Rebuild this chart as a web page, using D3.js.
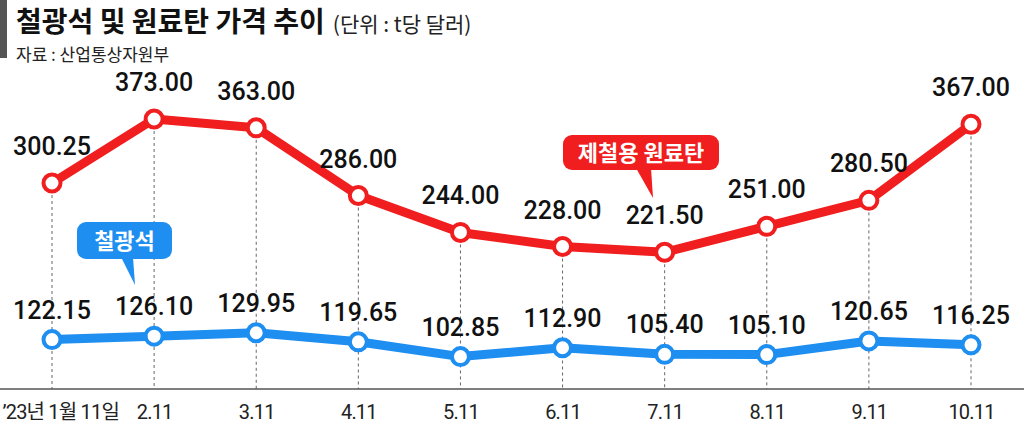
<!DOCTYPE html>
<html>
<head>
<meta charset="utf-8">
<script src="https://cdn.jsdelivr.net/npm/d3@7"></script>
<style>
  body { margin: 0; background: #fff; }
  text { font-family: 'Noto Sans CJK KR', 'Noto Sans', sans-serif; }
  .value { font-family: Roboto, 'Liberation Sans', sans-serif; font-weight: 500; font-size: 25px; fill: #111; }
  .tick { font-family: Roboto, 'Noto Sans CJK KR', sans-serif; font-size: 20px; letter-spacing: -0.8px; fill: #222; }
</style>
</head>
<body>
<div id="chart"></div>
<script>
const months = ['1.11', '2.11', '3.11', '4.11', '5.11', '6.11', '7.11', '8.11', '9.11', '10.11'];
const tickLabels = ['\u201923년 1월 11일', '2.11', '3.11', '4.11', '5.11', '6.11', '7.11', '8.11', '9.11', '10.11'];
const cokingCoal = [300.25, 373.00, 363.00, 286.00, 244.00, 228.00, 221.50, 251.00, 280.50, 367.00];
const ironOre = [122.15, 126.10, 129.95, 119.65, 102.85, 112.90, 105.40, 105.10, 120.65, 116.25];

const width = 1024;
const height = 427;
const baseY = 389;

const svg = d3.select('#chart')
.append('svg')
.attr('width', width)
.attr('height', height);

// title
svg.append('rect')
.attr('x', 0)
.attr('y', 0)
.attr('width', 7)
.attr('height', 58)
.attr('fill', '#555');

const title = svg.append('text')
.attr('x', 16)
.attr('y', 32);

title.append('tspan')
.attr('font-size', 28)
.attr('font-weight', 'bold')
.attr('fill', '#111')
.text('철광석 및 원료탄 가격 추이');

title.append('tspan')
.attr('font-size', 21)
.attr('fill', '#222')
.attr('dx', 8)
.text('(단위 : t당 달러)');

svg.append('text')
.attr('x', 16)
.attr('y', 61)
.attr('font-size', 17)
.attr('fill', '#222')
.text('자료 : 산업통상자원부');

const scaleX = d3.scalePoint()
.domain(months)
.range([52, 971]);

const scaleY = d3.scaleLinear()
.domain([66, 373])
.range([baseY, 119]);

// dashed guides
svg.append('g')
.selectAll('line')
.data(months)
.enter()
.append('line')
.attr('x1', (d) => scaleX(d))
.attr('x2', (d) => scaleX(d))
.attr('y1', (d, i) => scaleY(cokingCoal[i]))
.attr('y2', baseY)
.attr('stroke', '#666')
.attr('stroke-width', 1)
.attr('stroke-dasharray', '3,3');

// baseline axis
const xAxis = d3.axisBottom(scaleX)
.tickSize(0)
.tickPadding(16)
.tickFormat((d, i) => tickLabels[i]);

const groupAxisX = svg.append('g')
.attr('transform', `translate(0, ${baseY})`)
.call(xAxis);

groupAxisX.select('.domain').remove();
groupAxisX.selectAll('text')
.attr('class', 'tick')
.attr('font-family', null)
.attr('font-size', null);
groupAxisX.select('.tick:first-of-type text')
.attr('text-anchor', 'start')
.attr('x', 2 - scaleX(months[0]));

svg.append('line')
.attr('x1', 0)
.attr('x2', width)
.attr('y1', baseY)
.attr('y2', baseY)
.attr('stroke', '#555')
.attr('stroke-width', 1.5);

function drawSeries(values, color, labelGap) {
    const line = d3.line()
    .x((d, i) => scaleX(months[i]))
    .y((d) => scaleY(d));

    svg.append('path')
    .datum(values)
    .attr('d', line)
    .attr('fill', 'none')
    .attr('stroke', color)
    .attr('stroke-width', 9)
    .attr('stroke-linejoin', 'round');

    svg.append('g')
    .selectAll('circle')
    .data(values)
    .enter()
    .append('circle')
    .attr('cx', (d, i) => scaleX(months[i]))
    .attr('cy', (d) => scaleY(d))
    .attr('r', 8.5)
    .attr('fill', '#fff')
    .attr('stroke', color)
    .attr('stroke-width', 4);

    svg.append('g')
    .selectAll('text')
    .data(values)
    .enter()
    .append('text')
    .attr('class', 'value')
    .attr('x', (d, i) => scaleX(months[i]))
    .attr('y', (d) => scaleY(d) - labelGap)
    .attr('text-anchor', 'middle')
    .text((d) => d.toFixed(2));
}

drawSeries(cokingCoal, '#f01e1e', 28);
drawSeries(ironOre, '#1e8ef0', 21);

function callout(x, y, w, h, tail, color, label) {
    const g = svg.append('g');
    g.append('path')
    .attr('d', `M${tail[0]},${y + h - 2} L${tail[2]},${tail[3]} L${tail[1]},${y + h - 2} Z`)
    .attr('fill', color);
    g.append('rect')
    .attr('x', x)
    .attr('y', y)
    .attr('width', w)
    .attr('height', h)
    .attr('rx', 9)
    .attr('fill', color);
    g.append('text')
    .attr('x', x + w / 2)
    .attr('y', y + h / 2 + 8)
    .attr('text-anchor', 'middle')
    .attr('font-size', 22)
    .attr('font-weight', 'bold')
    .attr('fill', '#fff')
    .text(label);
}

callout(563, 135, 156, 35, [636, 651, 653, 198], '#f01e1e', '제철용 원료탄');
callout(77, 222, 95, 37, [121, 133, 135, 285], '#1e8ef0', '철광석');
</script>
</body>
</html>
